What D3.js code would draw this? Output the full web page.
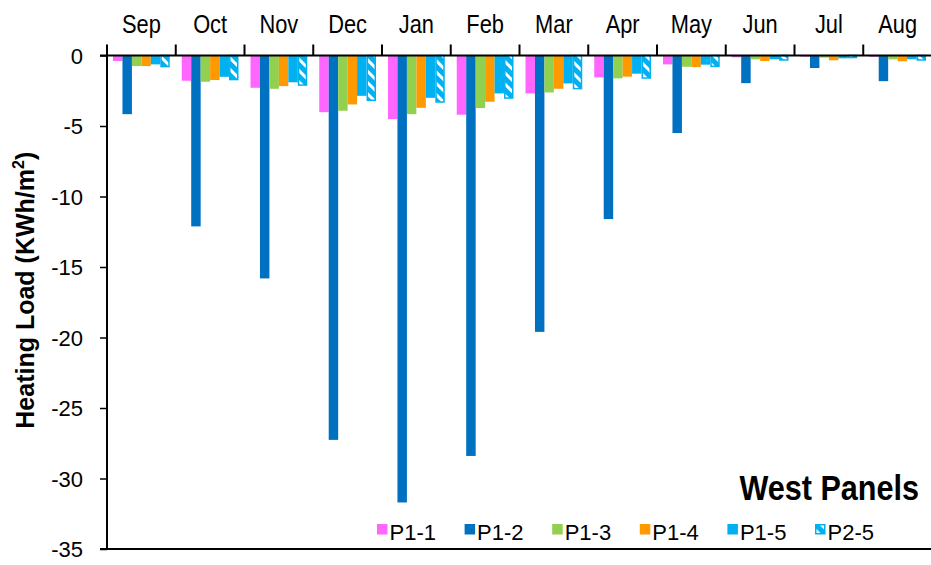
<!DOCTYPE html>
<html>
<head>
<meta charset="utf-8">
<script src="https://cdn.jsdelivr.net/npm/d3@7/dist/d3.min.js"></script>
<style>
  html, body { margin: 0; padding: 0; background: #fff; }
  svg { display: block; font-family: "Liberation Sans", Arial, sans-serif; }
</style>
</head>
<body>
<svg id="chart" width="931" height="565"></svg>
<script>
// Monthly heating load per panel configuration (KWh/m², negative = load)
const months = ["Sep", "Oct", "Nov", "Dec", "Jan", "Feb", "Mar", "Apr", "May", "Jun", "Jul", "Aug"];
const seriesNames = ["P1-1", "P1-2", "P1-3", "P1-4", "P1-5", "P2-5"];
const p11 = [-0.39, -1.79, -2.29, -4.02, -4.51, -4.20, -2.69, -1.55, -0.63, -0.13, -0.08, -0.10];
const p12 = [-4.16, -12.12, -15.81, -27.26, -31.70, -28.40, -19.60, -11.60, -5.50, -1.96, -0.89, -1.82];
const p13 = [-0.75, -1.86, -2.36, -3.92, -4.16, -3.73, -2.62, -1.62, -0.80, -0.27, -0.15, -0.27];
const p14 = [-0.75, -1.74, -2.17, -3.47, -3.71, -3.28, -2.36, -1.50, -0.82, -0.39, -0.34, -0.41];
const p15 = [-0.63, -1.51, -1.90, -2.86, -3.00, -2.69, -1.98, -1.29, -0.65, -0.27, -0.20, -0.27];
const p25 = [-0.84, -1.76, -2.15, -3.23, -3.35, -3.07, -2.40, -1.65, -0.82, -0.37, -0.20, -0.37];
const yTicks = [0, -5, -10, -15, -20, -25, -30, -35];

const seriesValues = [p11, p12, p13, p14, p15, p25];
const colors = ["#FF66FF", "#0070C0", "#92D050", "#FF9900", "#00B0F0", "#00B0F0"];
const hatched = [false, false, false, false, false, true];

const svg = d3.select("#chart");
const plotLeft = 107, plotRight = 932, plotTop = 55.5, plotBottom = 549;

const x = d3.scaleBand().domain(months).range([plotLeft, plotRight]).padding(0);
const xs = d3.scaleBand().domain(seriesNames)
  .range([6, x.bandwidth() - 6]).padding(0);
const y = d3.scaleLinear().domain([-35, 0]).range([plotBottom, plotTop]);

// diagonal hatch used by the P2-5 series
const defs = svg.append("defs");
const pat = defs.append("pattern")
  .attr("id", "hatch")
  .attr("patternUnits", "userSpaceOnUse")
  .attr("width", 8).attr("height", 8)
  .attr("patternTransform", "rotate(-45)");
pat.append("rect").attr("width", 8).attr("height", 8).attr("fill", "#00B0F0");
pat.append("rect").attr("x", 0).attr("width", 3).attr("height", 8).attr("fill", "#fff");

// bars
seriesNames.forEach((name, si) => {
  const g = svg.append("g").attr("class", "series");
  g.selectAll("rect")
    .data(months.map((m, i) => ({ m, v: seriesValues[si][i] })))
    .join("rect")
    .attr("x", d => x(d.m) + xs(name) + (hatched[si] ? 0.75 : 0))
    .attr("y", y(0))
    .attr("width", xs.bandwidth() - (hatched[si] ? 1.5 : 0))
    .attr("height", d => Math.max(0, y(d.v) - y(0) - (hatched[si] ? 0.75 : 0)))
    .attr("fill", hatched[si] ? "url(#hatch)" : colors[si])
    .attr("stroke", hatched[si] ? colors[si] : "none")
    .attr("stroke-width", hatched[si] ? 1.5 : 0);
});

// y axis
const yAxis = svg.append("g")
  .attr("transform", `translate(${plotLeft},0)`)
  .call(d3.axisLeft(y).tickValues(yTicks).tickSize(7).tickPadding(17).tickFormat(d => String(d)));
yAxis.select(".domain").attr("stroke", "#000").attr("stroke-width", 2)
  .attr("d", `M0,${plotTop - 11}V${plotBottom}`);
yAxis.selectAll(".tick line").attr("stroke", "#000").attr("stroke-width", 1.5);
yAxis.selectAll(".tick text")
  .attr("font-size", 22).attr("fill", "#000")
  .attr("font-family", "'Liberation Sans', Arial, sans-serif")
  .attr("dy", "0.36em");

// bottom frame line
svg.append("line")
  .attr("x1", plotLeft - 7).attr("x2", 931)
  .attr("y1", plotBottom).attr("y2", plotBottom)
  .attr("stroke", "#000").attr("stroke-width", 2);

// zero line with category boundary ticks pointing up
svg.append("line")
  .attr("x1", plotLeft - 7).attr("x2", 931)
  .attr("y1", y(0)).attr("y2", y(0))
  .attr("stroke", "#000").attr("stroke-width", 2);
svg.append("g").selectAll("line")
  .data(months.slice(1))
  .join("line")
  .attr("x1", d => x(d))
  .attr("x2", d => x(d))
  .attr("y1", y(0) - 11).attr("y2", y(0))
  .attr("stroke", "#000").attr("stroke-width", 2);

// month labels across the top (narrowed horizontally)
svg.append("g").selectAll("text")
  .data(months)
  .join("text")
  .attr("transform", d => `translate(${x(d) + x.bandwidth() / 2},${y(0) - 23}) scale(0.84,1)`)
  .attr("text-anchor", "middle")
  .attr("font-size", 26)
  .attr("fill", "#000")
  .text(d => d);

// y title
const yTitle = svg.append("text")
  .attr("transform", `translate(34,${(plotTop + plotBottom) / 2 - 12}) rotate(-90)`)
  .attr("text-anchor", "middle")
  .attr("font-size", 25).attr("font-weight", "bold");
yTitle.append("tspan").text("Heating Load (KWh/m");
yTitle.append("tspan").attr("dy", -10).attr("font-size", 16).text("2");
yTitle.append("tspan").attr("dy", 10).text(")");

// panel title
svg.append("text")
  .attr("transform", "translate(919,500) scale(0.85,1)")
  .attr("text-anchor", "end")
  .attr("font-size", 36).attr("font-weight", "bold")
  .text("West Panels");

// legend
const legend = svg.append("g").attr("transform", "translate(377,0)");
const li = legend.selectAll("g").data(seriesNames).join("g")
  .attr("transform", (d, i) => `translate(${i * 87.6},0)`);
li.append("rect")
  .attr("x", (d, i) => hatched[i] ? 0.75 : 0)
  .attr("y", (d, i) => 524 + (hatched[i] ? 0.75 : 0))
  .attr("width", (d, i) => hatched[i] ? 9 : 10.5)
  .attr("height", (d, i) => hatched[i] ? 9 : 10.5)
  .attr("fill", (d, i) => hatched[i] ? "url(#hatch)" : colors[i])
  .attr("stroke", (d, i) => hatched[i] ? colors[i] : "none")
  .attr("stroke-width", 1.5);
li.append("text")
  .attr("x", 12.5).attr("y", 540)
  .attr("font-size", 22)
  .text(d => d);
</script>
</body>
</html>
